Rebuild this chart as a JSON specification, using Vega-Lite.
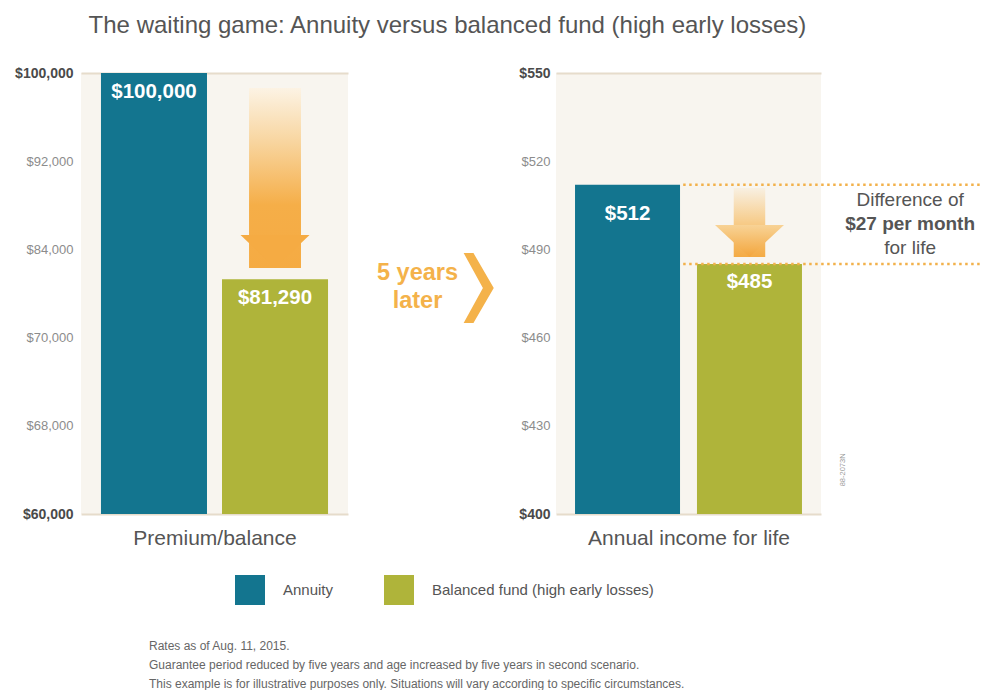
{
  "$schema": "https://vega.github.io/schema/vega-lite/v6.json",
  "background": "white",
  "padding": {"left": 14, "top": 14, "right": 0, "bottom": 0},
  "config": {
    "font": "Liberation Sans",
    "view": {"stroke": null},
    "axis": {"labelFont": "Liberation Sans", "titleFont": "Liberation Sans"},
    "legend": {"labelFont": "Liberation Sans"},
    "text": {"font": "Liberation Sans"}
  },
  "title": {
    "text": "The waiting game: Annuity versus balanced fund (high early losses)",
    "anchor": "start",
    "dx": 74,
    "fontSize": 24,
    "fontWeight": "normal",
    "color": "#555555",
    "font": "Liberation Sans",
    "offset": 28
  },
  "datasets": {
    "premium": [
      {"series": "Annuity", "value": 100000},
      {"series": "Balanced fund (high early losses)", "value": 81290}
    ],
    "premiumArrow": [
      {"series": "Balanced fund (high early losses)", "from": 98640, "to": 82310}
    ],
    "income": [
      {"series": "Annuity", "value": 512},
      {"series": "Balanced fund (high early losses)", "value": 485}
    ],
    "incomeArrow": [
      {"series": "Balanced fund (high early losses)", "from": 510.9, "to": 487.4}
    ],
    "gap": [
      {"anchor": "Annuity", "level": 512},
      {"anchor": "Annuity", "level": 485}
    ],
    "note": [
      {"series": "Balanced fund (high early losses)", "mid": 498.5, "line1": "Difference of", "line2": "$27 per month", "line3": "for life"}
    ],
    "code": [
      {"series": "Balanced fund (high early losses)", "level": 415, "code": "88-2073N"}
    ],
    "middle": [
      {"caption": "5 years\nlater"}
    ],
    "notes": [
      {"order": 1, "note": "Rates as of Aug. 11, 2015."},
      {"order": 2, "note": "Guarantee period reduced by five years and age increased by five years in second scenario."},
      {"order": 3, "note": "This example is for illustrative purposes only. Situations will vary according to specific circumstances."}
    ]
  },
  "spacing": 91.5,
  "vconcat": [
    {
      "spacing": 0,
      "hconcat": [
        {
          "width": 267,
          "height": 441,
          "view": {"fill": "#f8f5ef", "stroke": null},
          "data": {"name": "premium"},
          "encoding": {
            "x": {
              "field": "series",
              "type": "nominal",
              "scale": {"domain": ["Annuity", "Balanced fund (high early losses)"], "paddingInner": 0.124, "paddingOuter": 0.165},
              "axis": {"title": "Premium/balance", "labels": false, "ticks": false, "domain": false, "titleFontSize": 21, "titleColor": "#555555", "titleFontWeight": "normal", "titlePadding": 13}
            }
          },
          "layer": [
            {
              "mark": {"type": "bar", "clip": true},
              "encoding": {
                "y": {
                  "field": "value",
                  "type": "quantitative",
                  "scale": {"domain": [60000, 100000], "nice": false, "zero": false},
                  "axis": {
                    "title": null,
                    "values": [60000, 68000, 76000, 84000, 92000, 100000],
                    "labelExpr": "datum.value == 76000 ? '$70,000' : format(datum.value, '$,d')",
                    "domain": false,
                    "ticks": false,
                    "grid": true,
                    "gridColor": "#e6dccb",
                    "gridWidth": 2,
                    "gridOpacity": {"condition": {"test": "datum.value == 60000 || datum.value == 100000", "value": 1}, "value": 0},
                    "labelPadding": 8,
                    "labelFontSize": {"condition": {"test": "datum.value == 60000 || datum.value == 100000", "value": 14}, "value": 13},
                    "labelFontWeight": {"condition": {"test": "datum.value == 60000 || datum.value == 100000", "value": "bold"}, "value": "normal"},
                    "labelColor": {"condition": {"test": "datum.value == 60000 || datum.value == 100000", "value": "#4a4a4a"}, "value": "#8c8c8c"}
                  }
                },
                "color": {
                  "field": "series",
                  "type": "nominal",
                  "scale": {"domain": ["Annuity", "Balanced fund (high early losses)"], "range": ["#13758f", "#afb43a"]},
                  "legend": {"orient": "none", "legendX": 154, "legendY": 502, "direction": "horizontal", "title": null, "symbolType": "square", "symbolSize": 900, "symbolStrokeWidth": 0, "symbolOpacity": 1, "labelFontSize": 15, "labelColor": "#555555", "labelOffset": 18, "labelLimit": 400, "columnPadding": 50, "padding": 0}
                }
              }
            },
            {
              "data": {"name": "premiumArrow"},
              "mark": {
                "type": "bar",
                "width": {"band": 0.49},
                "fill": {"gradient": "linear", "x1": 0, "y1": 0, "x2": 0, "y2": 1, "stops": [
                  {"offset": 0, "color": "#fcf3e4"},
                  {"offset": 0.3, "color": "#f8d59f"},
                  {"offset": 0.65, "color": "#f5ae48"},
                  {"offset": 1, "color": "#f5ab43"}
                ]}
              },
              "encoding": {
                "y": {"field": "from", "type": "quantitative"},
                "y2": {"field": "to"}
              }
            },
            {
              "data": {"name": "premiumArrow"},
              "mark": {"type": "point", "shape": "M-1,-0.96L1,-0.96L0,0Z", "size": 4761, "filled": true, "fill": "#f5ab43", "opacity": 1, "strokeWidth": 0},
              "encoding": {
                "y": {"field": "to", "type": "quantitative"}
              }
            },
            {
              "mark": {"type": "text", "color": "white", "fontWeight": "bold", "fontSize": 20.5, "baseline": "middle", "dy": 19},
              "encoding": {
                "y": {"field": "value", "type": "quantitative"},
                "text": {"field": "value", "type": "quantitative", "format": "$,d"}
              }
            }
          ]
        },
        {
          "width": 170,
          "height": 441,
          "data": {"name": "middle"},
          "layer": [
            {
              "mark": {"type": "text", "lineBreak": "\n", "fontSize": 23.5, "fontWeight": "bold", "color": "#f4b24a", "align": "center", "baseline": "middle", "lineHeight": 28.5, "dx": -15.5, "dy": -21},
              "encoding": {"text": {"field": "caption"}}
            },
            {
              "mark": {"type": "point", "shape": "M-0.43,-1L-0.15,-1L0.43,0L-0.15,1L-0.43,1L0.12,0Z", "size": 4900, "filled": true, "color": "#f4b24a", "opacity": 1, "strokeWidth": 0, "xOffset": 45.7, "yOffset": -5.5},
              "encoding": {}
            }
          ]
        },
        {
          "width": 265,
          "height": 441,
          "view": {"fill": "#f8f5ef", "stroke": null},
          "data": {"name": "income"},
          "encoding": {
            "x": {
              "field": "series",
              "type": "nominal",
              "scale": {"domain": ["Annuity", "Balanced fund (high early losses)"], "paddingInner": 0.139, "paddingOuter": 0.156},
              "axis": {"title": "Annual income for life", "labels": false, "ticks": false, "domain": false, "titleFontSize": 21, "titleColor": "#555555", "titleFontWeight": "normal", "titlePadding": 13}
            }
          },
          "layer": [
            {
              "mark": {"type": "bar", "clip": true},
              "encoding": {
                "y": {
                  "field": "value",
                  "type": "quantitative",
                  "scale": {"domain": [400, 550], "nice": false, "zero": false},
                  "axis": {
                    "title": null,
                    "values": [400, 430, 460, 490, 520, 550],
                    "format": "$d",
                    "domain": false,
                    "ticks": false,
                    "grid": true,
                    "gridColor": "#e6dccb",
                    "gridWidth": 2,
                    "gridOpacity": {"condition": {"test": "datum.value == 400 || datum.value == 550", "value": 1}, "value": 0},
                    "labelPadding": 6,
                    "labelFontSize": {"condition": {"test": "datum.value == 400 || datum.value == 550", "value": 14}, "value": 13},
                    "labelFontWeight": {"condition": {"test": "datum.value == 400 || datum.value == 550", "value": "bold"}, "value": "normal"},
                    "labelColor": {"condition": {"test": "datum.value == 400 || datum.value == 550", "value": "#4a4a4a"}, "value": "#8c8c8c"}
                  }
                },
                "color": {
                  "field": "series",
                  "type": "nominal",
                  "scale": {"domain": ["Annuity", "Balanced fund (high early losses)"], "range": ["#13758f", "#afb43a"]},
                  "legend": {"orient": "none", "legendX": 154, "legendY": 502, "direction": "horizontal", "title": null, "symbolType": "square", "symbolSize": 900, "symbolStrokeWidth": 0, "symbolOpacity": 1, "labelFontSize": 15, "labelColor": "#555555", "labelOffset": 18, "labelLimit": 400, "columnPadding": 50, "padding": 0}
                }
              }
            },
            {
              "data": {"name": "incomeArrow"},
              "mark": {
                "type": "bar",
                "width": {"band": 0.3},
                "fill": {"gradient": "linear", "x1": 0, "y1": 0, "x2": 0, "y2": 1, "stops": [
                  {"offset": 0, "color": "#f8f0e2"},
                  {"offset": 0.5, "color": "#f7cc8a"},
                  {"offset": 1, "color": "#f4ab45"}
                ]}
              },
              "encoding": {
                "y": {"field": "from", "type": "quantitative"},
                "y2": {"field": "to"}
              }
            },
            {
              "data": {"name": "incomeArrow"},
              "mark": {
                "type": "point",
                "shape": "M-1,-0.93L1,-0.93L0,0Z",
                "size": 4761,
                "filled": true,
                "opacity": 1,
                "strokeWidth": 0,
                "fill": {"gradient": "linear", "x1": 0, "y1": 0, "x2": 0, "y2": 1, "stops": [
                  {"offset": 0, "color": "#f8d396"},
                  {"offset": 1, "color": "#f3a53c"}
                ]}
              },
              "encoding": {
                "y": {"field": "to", "type": "quantitative"}
              }
            },
            {
              "data": {"name": "gap"},
              "mark": {"type": "rule", "color": "#f2b14b", "strokeWidth": 2.5, "strokeDash": [2.5, 3.5]},
              "encoding": {
                "x": {"field": "anchor", "type": "nominal", "bandPosition": 1.03},
                "x2": {"field": "anchor", "bandPosition": 3.86},
                "y": {"field": "level", "type": "quantitative"}
              }
            },
            {
              "transform": [{"filter": "datum.series == 'Annuity'"}],
              "mark": {"type": "text", "color": "white", "fontWeight": "bold", "fontSize": 20.5, "baseline": "middle", "dy": 29},
              "encoding": {
                "y": {"field": "value", "type": "quantitative"},
                "text": {"field": "value", "type": "quantitative", "format": "$,d"}
              }
            },
            {
              "transform": [{"filter": "datum.series != 'Annuity'"}],
              "mark": {"type": "text", "color": "white", "fontWeight": "bold", "fontSize": 20.5, "baseline": "middle", "dy": 18},
              "encoding": {
                "y": {"field": "value", "type": "quantitative"},
                "text": {"field": "value", "type": "quantitative", "format": "$,d"}
              }
            },
            {
              "data": {"name": "note"},
              "mark": {"type": "text", "fontSize": 19, "color": "#555555", "baseline": "middle", "align": "center", "dy": -24},
              "encoding": {
                "x": {"field": "series", "type": "nominal", "bandPosition": 2.03},
                "y": {"field": "mid", "type": "quantitative"},
                "text": {"field": "line1"}
              }
            },
            {
              "data": {"name": "note"},
              "mark": {"type": "text", "fontSize": 19, "fontWeight": "bold", "color": "#555555", "baseline": "middle", "align": "center"},
              "encoding": {
                "x": {"field": "series", "type": "nominal", "bandPosition": 2.03},
                "y": {"field": "mid", "type": "quantitative"},
                "text": {"field": "line2"}
              }
            },
            {
              "data": {"name": "note"},
              "mark": {"type": "text", "fontSize": 19, "color": "#555555", "baseline": "middle", "align": "center", "dy": 24},
              "encoding": {
                "x": {"field": "series", "type": "nominal", "bandPosition": 2.03},
                "y": {"field": "mid", "type": "quantitative"},
                "text": {"field": "line3"}
              }
            },
            {
              "data": {"name": "code"},
              "mark": {"type": "text", "fontSize": 7.5, "color": "#9a9a9a", "baseline": "middle", "align": "center", "angle": 270},
              "encoding": {
                "x": {"field": "series", "type": "nominal", "bandPosition": 1.39},
                "y": {"field": "level", "type": "quantitative"},
                "text": {"field": "code"}
              }
            }
          ]
        }
      ]
    },
    {
      "width": 136,
      "height": 38,
      "data": {"name": "notes"},
      "mark": {"type": "text", "align": "left", "baseline": "middle", "fontSize": 12, "color": "#666666"},
      "encoding": {
        "y": {"field": "order", "type": "ordinal", "axis": null, "scale": {"type": "point", "padding": 0}},
        "text": {"field": "note"}
      }
    }
  ]
}
